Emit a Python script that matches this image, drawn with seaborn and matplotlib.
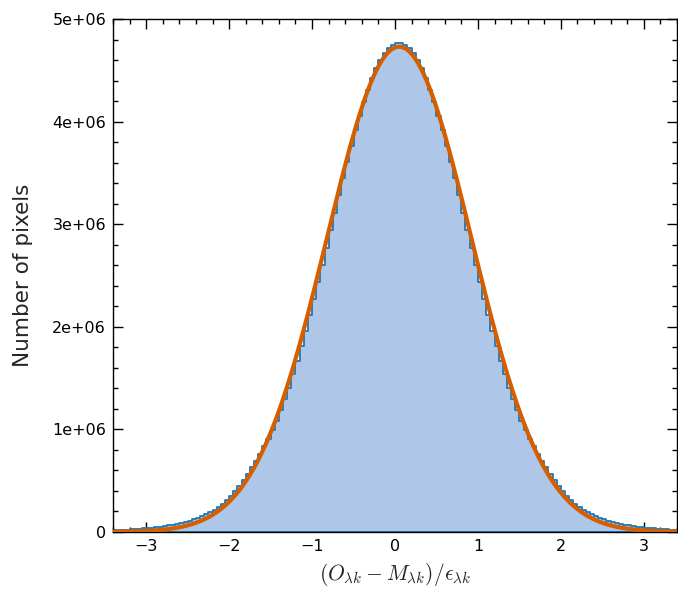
import numpy as np
import pandas as pd
import matplotlib
matplotlib.use("Agg")
import matplotlib.pyplot as plt
from matplotlib.ticker import MultipleLocator, FuncFormatter
import seaborn as sns

# Normalised residual histogram: 0.05-wide bins from -3.4 to 3.4, counts in millions of pixels
bin_start = -3.4
bin_width = 0.05
counts_millions = [
    0.017, 0.019, 0.021, 0.023, 0.025, 0.028, 0.031, 0.035, 0.038, 0.043,
    0.047, 0.052, 0.058, 0.065, 0.072, 0.080, 0.089, 0.099, 0.110, 0.123,
    0.137, 0.153, 0.171, 0.191, 0.214, 0.239, 0.268, 0.307, 0.350, 0.400,
    0.452, 0.508, 0.568, 0.630, 0.694, 0.762, 0.834, 0.908, 0.990, 1.085,
    1.190, 1.300, 1.408, 1.536, 1.671, 1.813, 1.961, 2.114, 2.273, 2.436,
    2.602, 2.771, 2.941, 3.111, 3.280, 3.446, 3.609, 3.766, 3.916, 4.058,
    4.191, 4.312, 4.422, 4.518, 4.600, 4.666, 4.717, 4.751, 4.768,
    4.768, 4.751, 4.717, 4.666, 4.600, 4.518, 4.422, 4.312, 4.191, 4.058,
    3.916, 3.766, 3.609, 3.446, 3.280, 3.111, 2.941, 2.771, 2.602, 2.436,
    2.273, 2.114, 1.961, 1.813, 1.671, 1.536, 1.408, 1.300, 1.190, 1.085,
    0.990, 0.908, 0.834, 0.762, 0.694, 0.630, 0.568, 0.508, 0.452, 0.400,
    0.350, 0.307, 0.268, 0.239, 0.214, 0.191, 0.171, 0.153, 0.137, 0.123,
    0.110, 0.099, 0.089, 0.080, 0.072, 0.065, 0.058, 0.052, 0.047, 0.043,
    0.038, 0.035, 0.031, 0.028, 0.025, 0.023, 0.021,
]

# Gaussian fit to the histogram
fit_amplitude = 4.73e6
fit_mean = 0.05
fit_sigma = 0.87

x_limits = (-3.4, 3.4)
y_limits = (0, 5e6)
x_ticks = [-3, -2, -1, 0, 1, 2, 3]
y_ticks = [0, 1e6, 2e6, 3e6, 4e6, 5e6]

n_bins = len(counts_millions)
centers = bin_start + bin_width * (np.arange(n_bins) + 0.5)
hist_df = pd.DataFrame({"residual": centers,
                        "pixels": np.array(counts_millions) * 1e6})

x_fit = np.linspace(x_limits[0], x_limits[1], 600)
fit_df = pd.DataFrame({
    "residual": x_fit,
    "model": fit_amplitude * np.exp(-0.5 * ((x_fit - fit_mean) / fit_sigma) ** 2),
})

sns.set_theme(style="ticks")
plt.rcParams.update({
    "font.family": ["DejaVu Sans"],
    "mathtext.fontset": "cm",
    "xtick.direction": "in",
    "ytick.direction": "in",
    "xtick.top": True,
    "ytick.right": True,
    "axes.linewidth": 1.0,
    "axes.edgecolor": "black",
})

fig = plt.figure(figsize=(6.78, 5.89), dpi=100)
ax = fig.add_axes([0.1667, 0.0968, 0.8318, 0.8709])

sns.histplot(data=hist_df, x="residual", weights="pixels", bins=n_bins,
             binrange=(bin_start, bin_start + n_bins * bin_width),
             element="step", fill=True, facecolor="#aec7e8",
             edgecolor="#1f77b4", linewidth=1.3, alpha=1.0, ax=ax, zorder=2)
sns.lineplot(data=fit_df, x="residual", y="model", color="#d55e00",
             linewidth=3.0, ax=ax, zorder=3)

ax.set_xlim(*x_limits)
ax.set_ylim(*y_limits)
ax.set_xticks(x_ticks)
ax.set_yticks(y_ticks)
ax.xaxis.set_minor_locator(MultipleLocator(0.2))
ax.yaxis.set_minor_locator(MultipleLocator(0.2e6))
ax.yaxis.set_major_formatter(
    FuncFormatter(lambda v, _: "0" if v == 0 else f"{v:.0e}"))
ax.xaxis.set_major_formatter(
    FuncFormatter(lambda v, _: f"{int(round(v))}".replace("-", "\u2212")))

ax.tick_params(which="both", direction="in", top=True, right=True,
               colors="black", labelsize=11.5)
ax.tick_params(which="major", length=7.5, width=1.0, pad=5)
ax.tick_params(which="minor", length=3.8, width=1.0)
for spine in ax.spines.values():
    spine.set_visible(True)
    spine.set_color("black")
    spine.set_linewidth(1.0)

ax.set_xlabel(r"$(O_{\lambda k} - M_{\lambda k})/\epsilon_{\lambda k}$",
              fontsize=15.5, labelpad=5)
ax.set_ylabel("Number of pixels", fontsize=15.5, labelpad=14)

fig.savefig("out.png", dpi=100)
